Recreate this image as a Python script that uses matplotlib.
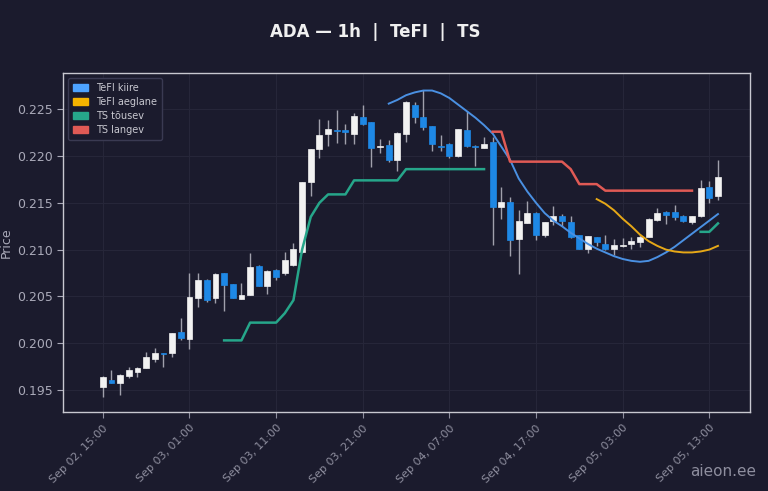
import numpy as np
import pandas as pd
import matplotlib
matplotlib.use("Agg")
import matplotlib.pyplot as plt
import matplotlib.dates as mdates
from matplotlib.patches import Patch

# hourly candles, Sep 02 15:00 .. Sep 05 14:00
times = pd.date_range("2025-09-02 15:00", periods=72, freq="h")

opens = [0.1953, 0.1961, 0.1957, 0.1965, 0.1969, 0.1973, 0.1983, 0.1990, 0.1989, 0.2012,
         0.2005, 0.2048, 0.2068, 0.2048, 0.2075, 0.2063, 0.2047, 0.2052, 0.2082, 0.2061,
         0.2078, 0.2075, 0.2084, 0.2097, 0.2172, 0.2208, 0.2224, 0.2228, 0.2228, 0.2224,
         0.2242, 0.2236, 0.2210, 0.2212, 0.2196, 0.2224, 0.2255, 0.2242, 0.2232, 0.2211,
         0.2213, 0.2200, 0.2228, 0.2211, 0.2209, 0.2215, 0.2146, 0.2151, 0.2111, 0.2128,
         0.2139, 0.2116, 0.2131, 0.2136, 0.2129, 0.2116, 0.2101, 0.2113, 0.2106, 0.2101,
         0.2104, 0.2106, 0.2108, 0.2113, 0.2132, 0.2140, 0.2140, 0.2136, 0.2130, 0.2136,
         0.2167, 0.2157]
closes = [0.1964, 0.1958, 0.1966, 0.1971, 0.1973, 0.1985, 0.1990, 0.1988, 0.2011, 0.2006,
          0.2049, 0.2068, 0.2046, 0.2074, 0.2062, 0.2048, 0.2052, 0.2081, 0.2061, 0.2077,
          0.2071, 0.2089, 0.2101, 0.2172, 0.2208, 0.2222, 0.2229, 0.2227, 0.2226, 0.2243,
          0.2234, 0.2209, 0.2211, 0.2196, 0.2225, 0.2258, 0.2242, 0.2231, 0.2213, 0.2210,
          0.2200, 0.2229, 0.2211, 0.2210, 0.2213, 0.2146, 0.2151, 0.2110, 0.2131, 0.2139,
          0.2116, 0.2130, 0.2136, 0.2131, 0.2114, 0.2101, 0.2115, 0.2108, 0.2101, 0.2105,
          0.2105, 0.2109, 0.2113, 0.2133, 0.2139, 0.2137, 0.2135, 0.2131, 0.2136, 0.2166,
          0.2155, 0.2178]
highs = [0.1965, 0.1971, 0.1967, 0.1975, 0.1975, 0.1991, 0.1995, 0.1990, 0.2011, 0.2027,
         0.2075, 0.2075, 0.2069, 0.2075, 0.2075, 0.2063, 0.2064, 0.2096, 0.2084, 0.2078,
         0.2079, 0.2097, 0.2107, 0.2172, 0.2208, 0.2240, 0.2238, 0.2249, 0.2234, 0.2246,
         0.2255, 0.2236, 0.2218, 0.2217, 0.2226, 0.2259, 0.2258, 0.2271, 0.2232, 0.2223,
         0.2214, 0.2229, 0.2248, 0.2212, 0.2220, 0.2220, 0.2167, 0.2156, 0.2142, 0.2152,
         0.2140, 0.2130, 0.2147, 0.2138, 0.2136, 0.2116, 0.2115, 0.2114, 0.2116, 0.2111,
         0.2112, 0.2114, 0.2117, 0.2134, 0.2144, 0.2141, 0.2148, 0.2137, 0.2136, 0.2174,
         0.2173, 0.2196]
lows = [0.1943, 0.1957, 0.1945, 0.1963, 0.1964, 0.1973, 0.1980, 0.1975, 0.1985, 0.2003,
        0.1994, 0.2039, 0.2044, 0.2043, 0.2034, 0.2048, 0.2047, 0.2051, 0.2061, 0.2053,
        0.2068, 0.2073, 0.2082, 0.2096, 0.2157, 0.2198, 0.2211, 0.2214, 0.2213, 0.2213,
        0.2233, 0.2188, 0.2203, 0.2194, 0.2184, 0.2215, 0.2235, 0.2228, 0.2205, 0.2205,
        0.2198, 0.2199, 0.2210, 0.2189, 0.2209, 0.2105, 0.2133, 0.2093, 0.2074, 0.2128,
        0.2110, 0.2113, 0.2126, 0.2125, 0.2112, 0.2101, 0.2096, 0.2104, 0.2100, 0.2094,
        0.2103, 0.2101, 0.2103, 0.2113, 0.2131, 0.2127, 0.2132, 0.2130, 0.2127, 0.2135,
        0.2150, 0.2153]

# TeFI kiire (fast), from candle 33
fast_start = 33
fast = [0.2256, 0.2260, 0.2265, 0.2268, 0.2270, 0.2270, 0.2267, 0.2262, 0.2255, 0.2248,
        0.2241, 0.2233, 0.2224, 0.2210, 0.2196, 0.2176, 0.2162, 0.2150, 0.2139, 0.2131,
        0.2125, 0.2118, 0.2112, 0.2106, 0.2101, 0.2097, 0.2093, 0.2090, 0.2088, 0.2087,
        0.2088, 0.2092, 0.2097, 0.2103, 0.2110, 0.2117, 0.2124, 0.2131, 0.2138]
# TeFI aeglane (slow), from candle 57
slow_start = 57
slow = [0.2154, 0.2149, 0.2142, 0.2133, 0.2125, 0.2116, 0.2109, 0.2104, 0.2100, 0.2098,
        0.2097, 0.2097, 0.2098, 0.2100, 0.2104]
# TS tõusev (up trail), two segments
up1_start = 14
up1 = [0.2003, 0.2003, 0.2003, 0.2022, 0.2022, 0.2022, 0.2022, 0.2032, 0.2046, 0.2100,
       0.2135, 0.2150, 0.2159, 0.2159, 0.2159, 0.2174, 0.2174, 0.2174, 0.2174, 0.2174,
       0.2174, 0.2186, 0.2186, 0.2186, 0.2186, 0.2186, 0.2186, 0.2186, 0.2186, 0.2186,
       0.2186]
up2_start = 69
up2 = [0.2119, 0.2119, 0.2128]
# TS langev (down trail)
dn_start = 45
dn = [0.2226, 0.2226, 0.2194, 0.2194, 0.2194, 0.2194, 0.2194, 0.2194, 0.2194, 0.2186,
      0.2170, 0.2170, 0.2170, 0.2163, 0.2163, 0.2163, 0.2163, 0.2163, 0.2163, 0.2163,
      0.2163, 0.2163, 0.2163, 0.2163]

BG = "#1b1b2d"
UP = "#f2f2f2"
DOWN = "#1e88e5"
C_FAST = "#4a90e2"
C_SLOW = "#e6a817"
C_UP = "#26a68a"
C_DN = "#e05a55"
TXT = "#a9a9b8"

fig = plt.figure(figsize=(7.68, 4.91), dpi=100, facecolor=BG)
ax = fig.add_axes([0.082, 0.1615, 0.8946, 0.6892])
ax.set_facecolor(BG)

t = mdates.date2num(times)
w = 0.68 / 24
for i in range(len(t)):
    o, c, h, l = opens[i], closes[i], highs[i], lows[i]
    col = UP if c >= o else DOWN
    ax.vlines(t[i], l, h, color="#a0a0ac", lw=1.0, zorder=2)
    ax.bar(t[i], max(abs(c - o), 0.00004), bottom=min(o, c), width=w,
           color=col, edgecolor=col, lw=0.5, zorder=3)

ax.plot(t[fast_start:fast_start + len(fast)], fast, color=C_FAST, lw=1.4, zorder=4)
ax.plot(t[slow_start:slow_start + len(slow)], slow, color=C_SLOW, lw=1.4, zorder=4)
ax.plot(t[up1_start:up1_start + len(up1)], up1, color=C_UP, lw=1.8, zorder=4)
ax.plot(t[up2_start:up2_start + len(up2)], up2, color=C_UP, lw=1.8, zorder=4)
ax.plot(t[dn_start:dn_start + len(dn)], dn, color=C_DN, lw=1.8, zorder=4)

ax.set_xlim(t[0] - 4.6 / 24, t[0] + 74.7 / 24)
ax.set_ylim(0.19268, 0.22884)
ax.set_yticks([0.195, 0.200, 0.205, 0.210, 0.215, 0.220, 0.225])
ax.yaxis.set_major_formatter(plt.FormatStrFormatter("%.3f"))
ax.set_xticks(t[::10])
ax.xaxis.set_major_formatter(mdates.DateFormatter("%b %d, %H:%M"))
plt.setp(ax.get_xticklabels(), rotation=45, ha="right", rotation_mode="anchor")

ax.grid(True, color="#262639", lw=0.8, zorder=0)
for s in ax.spines.values():
    s.set_color("#c8c8d0")
    s.set_linewidth(1.0)
ax.tick_params(colors=TXT, labelsize=9, length=4)
ax.tick_params(axis="x", colors="#8e8e9e", labelsize=8, pad=4)
ax.set_ylabel("Price", color=TXT, fontsize=9)
ax.yaxis.set_label_coords(-0.073, 0.5)

handles = [Patch(color="#4da3ff", label="TeFI kiire"),
           Patch(color="#f5b400", label="TeFI aeglane"),
           Patch(color=C_UP, label="TS tõusev"),
           Patch(color=C_DN, label="TS langev")]
leg = ax.legend(handles=handles, loc="upper left", fontsize=7, frameon=True,
                facecolor=BG, edgecolor="#3a3a52", labelcolor="#c8c8d0",
                handlelength=1.6, handleheight=0.7, borderpad=0.5, labelspacing=0.4)
leg.get_frame().set_alpha(1.0)

fig.text(0.488, 0.934, "ADA — 1h  |  TeFI  |  TS", color="#f0f0f0", fontsize=12,
         fontweight="bold", ha="center", va="center")
fig.text(0.985, 0.025, "aieon.ee", color="#8e8e9e", fontsize=11, ha="right", va="bottom")

fig.savefig("out.png", dpi=100, facecolor=BG)
